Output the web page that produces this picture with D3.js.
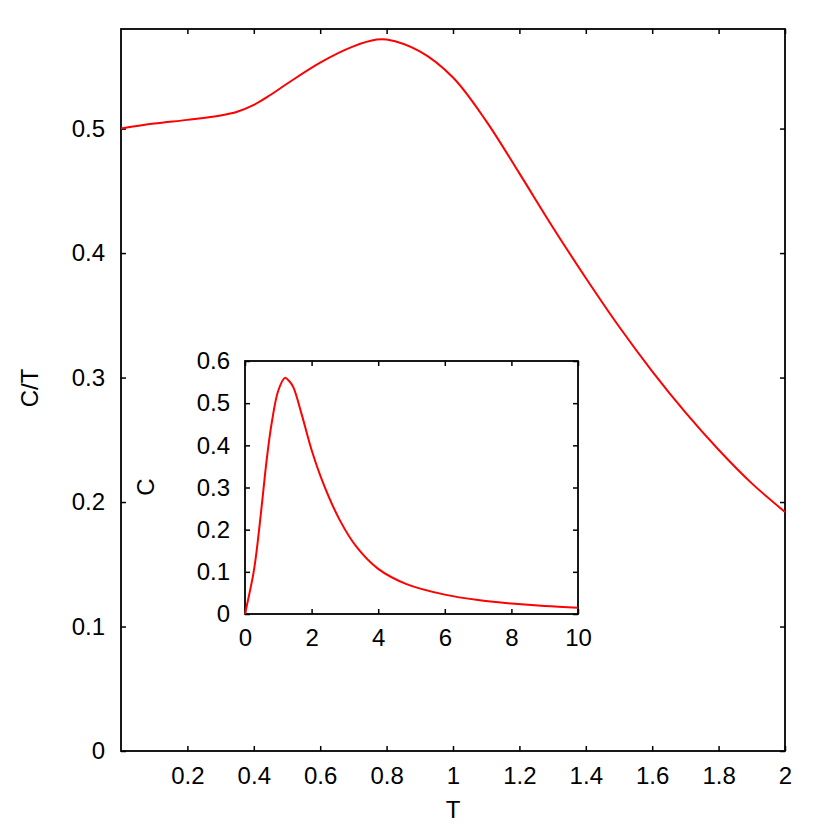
<!DOCTYPE html>
<meta charset="utf-8">
<style>
body {
  margin: 0;
  background: #fff;
}
svg text {
  font-family: "Liberation Sans", Arial, Helvetica, sans-serif;
  font-size: 24px;
  fill: #000;
}
.axis path { display: none; }
.axis line { stroke: #000; stroke-width: 1.5px; }
.frame { fill: none; stroke: #000; stroke-width: 1.8px; }
.curve { fill: none; stroke: #ff0000; stroke-width: 2px; }
</style>
<body>
<script src="https://cdn.jsdelivr.net/npm/d3@7"></script>
<script>
// main plot: C/T against T
var mainT  = [0, 0.1, 0.2, 0.3, 0.35, 0.4, 0.45, 0.5, 0.6, 0.7, 0.77, 0.8, 0.9, 1.0, 1.1, 1.2, 1.3, 1.4, 1.5, 1.6, 1.7, 1.8, 1.9, 2.0];
var mainCT = [0.500, 0.504, 0.507, 0.5105, 0.5135, 0.519, 0.527, 0.536, 0.553, 0.566, 0.5715, 0.5715, 0.562, 0.541, 0.506, 0.464, 0.421, 0.380, 0.341, 0.305, 0.272, 0.242, 0.215, 0.192];
var mainXTicks = [0.2, 0.4, 0.6, 0.8, 1, 1.2, 1.4, 1.6, 1.8, 2];
var mainYTicks = [0, 0.1, 0.2, 0.3, 0.4, 0.5];

// inset: C against T
var insetT = [0, 0.25, 0.35, 0.5, 0.65, 0.8, 1.0, 1.2, 1.32, 1.45, 1.7, 2.0, 2.35, 2.85, 3.35, 4, 4.85, 6, 7, 8, 9, 10];
var insetC = [0, 0.095, 0.15, 0.255, 0.365, 0.452, 0.53, 0.56, 0.553, 0.538, 0.474, 0.389, 0.31, 0.222, 0.159, 0.107, 0.071, 0.046, 0.033, 0.025, 0.019, 0.015];
var insetXTicks = [0, 2, 4, 6, 8, 10];
var insetYTicks = [0, 0.1, 0.2, 0.3, 0.4, 0.5, 0.6];

var svg = d3.select("body").append("svg").attr("width", 830).attr("height", 830);

function panel(box, xDom, yDom, xs, ys, xl, yl, xTicks, yTicks, fmt) {
  var g = svg.append("g");
  var x = d3.scaleLinear().domain(xDom).range([box.l, box.r]);
  var y = d3.scaleLinear().domain(yDom).range([box.b, box.t]);

  // ticks on all four sides, pointing in
  g.append("g").attr("class", "axis")
    .attr("transform", "translate(0," + box.b + ")")
    .call(d3.axisBottom(x).tickValues(xTicks).tickSizeInner(-5).tickSizeOuter(0).tickPadding(box.pad).tickFormat(fmt));
  g.append("g").attr("class", "axis")
    .attr("transform", "translate(0," + box.t + ")")
    .call(d3.axisTop(x).tickValues(xTicks).tickSizeInner(-5).tickSizeOuter(0).tickFormat(""));
  g.append("g").attr("class", "axis")
    .attr("transform", "translate(" + box.l + ",0)")
    .call(d3.axisLeft(y).tickValues(yTicks).tickSizeInner(-5).tickSizeOuter(0).tickPadding(box.pad).tickFormat(fmt));
  g.append("g").attr("class", "axis")
    .attr("transform", "translate(" + box.r + ",0)")
    .call(d3.axisRight(y).tickValues(yTicks).tickSizeInner(-5).tickSizeOuter(0).tickFormat(""));

  g.append("rect").attr("class", "frame")
    .attr("x", box.l).attr("y", box.t)
    .attr("width", box.r - box.l).attr("height", box.b - box.t);

  var line = d3.line()
    .x(function(d) { return x(d[0]); })
    .y(function(d) { return y(d[1]); })
    .curve(d3.curveCatmullRom.alpha(0.5));
  g.append("path").attr("class", "curve")
    .attr("d", line(d3.zip(xs, ys)));

  if (xl[2]) {
    g.append("text")
      .attr("x", xl[0]).attr("y", xl[1])
      .attr("text-anchor", "middle").attr("dy", "0.35em")
      .text(xl[2]);
  }
  g.append("text")
    .attr("transform", "translate(" + yl[0] + "," + yl[1] + ") rotate(-90)")
    .attr("text-anchor", "middle").attr("dy", "0.35em")
    .text(yl[2]);
}

var fmt = function(d) { return String(d); };

// main panel (white inset box covers the middle afterwards)
panel({l: 121, r: 785, t: 29, b: 751, pad: 16}, [0, 2], [0, 0.58],
  mainT, mainCT, [453, 810, "T"], [30, 388, "C/T"], mainXTicks, mainYTicks, fmt);

svg.append("rect").attr("x", 245).attr("y", 361).attr("width", 333).attr("height", 253).attr("fill", "#fff");

panel({l: 245, r: 578, t: 361, b: 614, pad: 15}, [0, 10], [0, 0.6],
  insetT, insetC, [0, 0, ""], [146, 487, "C"], insetXTicks, insetYTicks, fmt);
</script>
</body>
